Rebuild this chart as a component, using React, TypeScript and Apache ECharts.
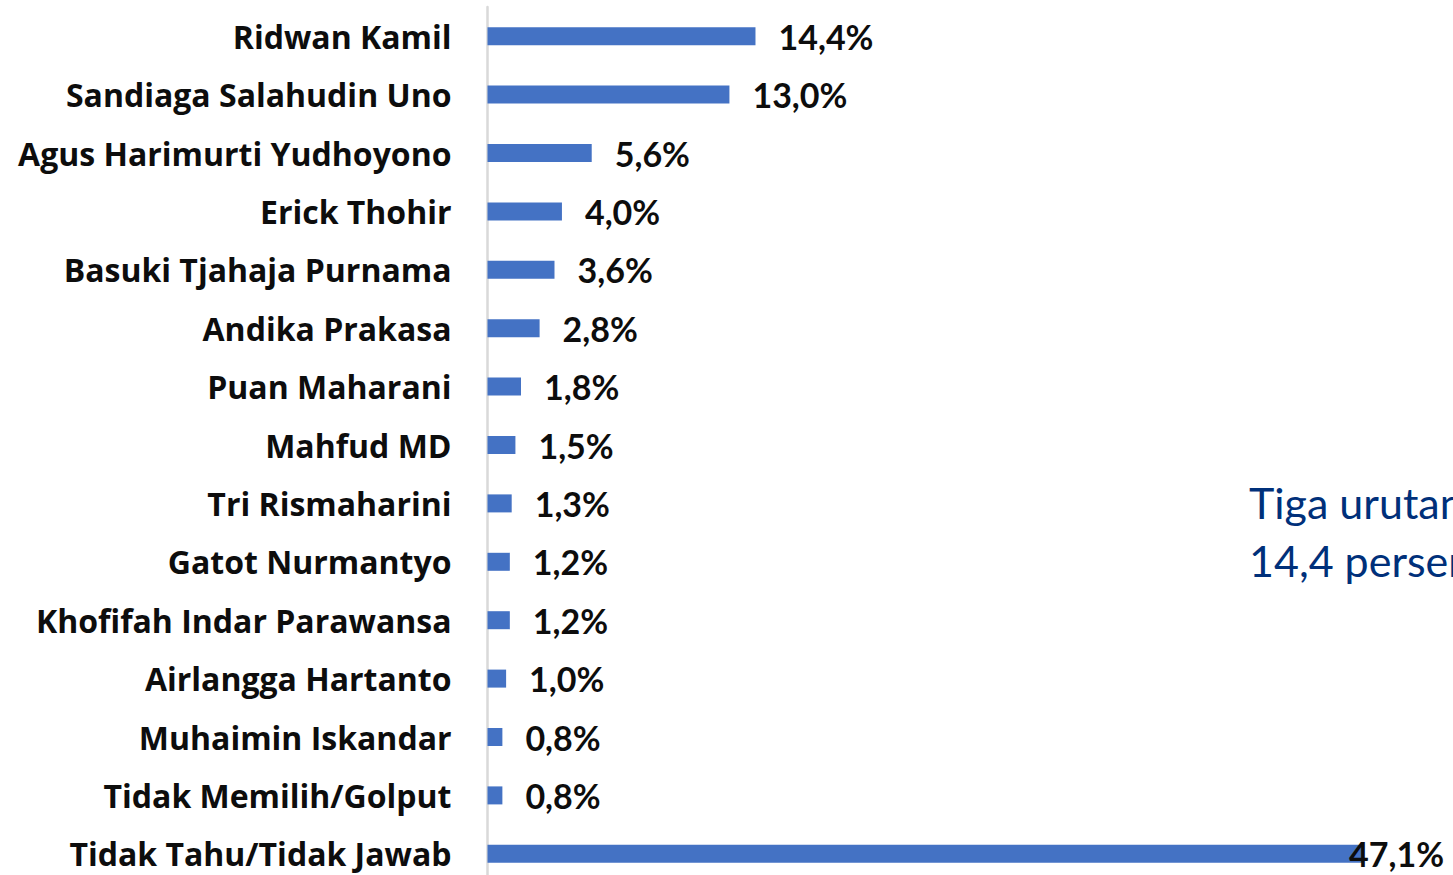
import React, { useEffect, useRef } from "react";
import * as echarts from "echarts";

const categories = [
  "Ridwan Kamil",
  "Sandiaga Salahudin Uno",
  "Agus Harimurti Yudhoyono",
  "Erick Thohir",
  "Basuki Tjahaja Purnama",
  "Andika Prakasa",
  "Puan Maharani",
  "Mahfud MD",
  "Tri Rismaharini",
  "Gatot Nurmantyo",
  "Khofifah Indar Parawansa",
  "Airlangga Hartanto",
  "Muhaimin Iskandar",
  "Tidak Memilih/Golput",
  "Tidak Tahu/Tidak Jawab",
];

const values = [14.4, 13.0, 5.6, 4.0, 3.6, 2.8, 1.8, 1.5, 1.3, 1.2, 1.2, 1.0, 0.8, 0.8, 47.1];

const noteLines = ["Tiga urutan", "14,4 persen"];

export default function App() {
  const ref = useRef<HTMLDivElement>(null);
  useEffect(() => {
    if (!ref.current) return;
    const chart = echarts.init(ref.current, undefined, { renderer: "svg" });
    const maxVal = Math.max(...values);
    const fmt = (v: number) => v.toFixed(1).replace(".", ",") + "%";
    chart.setOption({
      animation: false,
      grid: { left: 487.5, top: 7, width: 930.5, height: 876, containLabel: false },
      xAxis: {
        type: "value",
        min: 0,
        max: 50,
        show: false,
        splitLine: { show: false },
      },
      yAxis: {
        type: "category",
        data: categories,
        inverse: true,
        axisLine: { show: true, lineStyle: { color: "#d9d9d9", width: 2.5 } },
        axisTick: { show: false },
        axisLabel: {
          margin: 36,
          color: "#0d0d0d",
          fontFamily: "Open Sans",
          fontWeight: "bold",
          fontSize: 32,
        },
      },
      series: [
        {
          type: "bar",
          barWidth: 18,
          itemStyle: { color: "#4472C4" },
          data: values.map((v) =>
            v === maxVal
              ? { value: v, label: { offset: [-38, 0] } }
              : { value: v }
          ),
          label: {
            show: true,
            position: "right",
            distance: 23,
            color: "#0d0d0d",
            fontFamily: "Lato",
            fontWeight: "bold",
            fontSize: 34,
            formatter: (p: any) => fmt(p.value),
          },
        },
      ],
      graphic: noteLines.map((t, i) => ({
        type: "text",
        left: 1249,
        top: 481 + i * 58,
        style: {
          text: t,
          fill: "#00307A",
          fontFamily: "Lato",
          fontSize: 43,
        },
      })),
    });
    return () => chart.dispose();
  }, []);
  return (
    <div
      ref={ref}
      style={{ position: "fixed", left: 0, top: 0, width: 1453, height: 890, background: "#fff" }}
    />
  );
}
